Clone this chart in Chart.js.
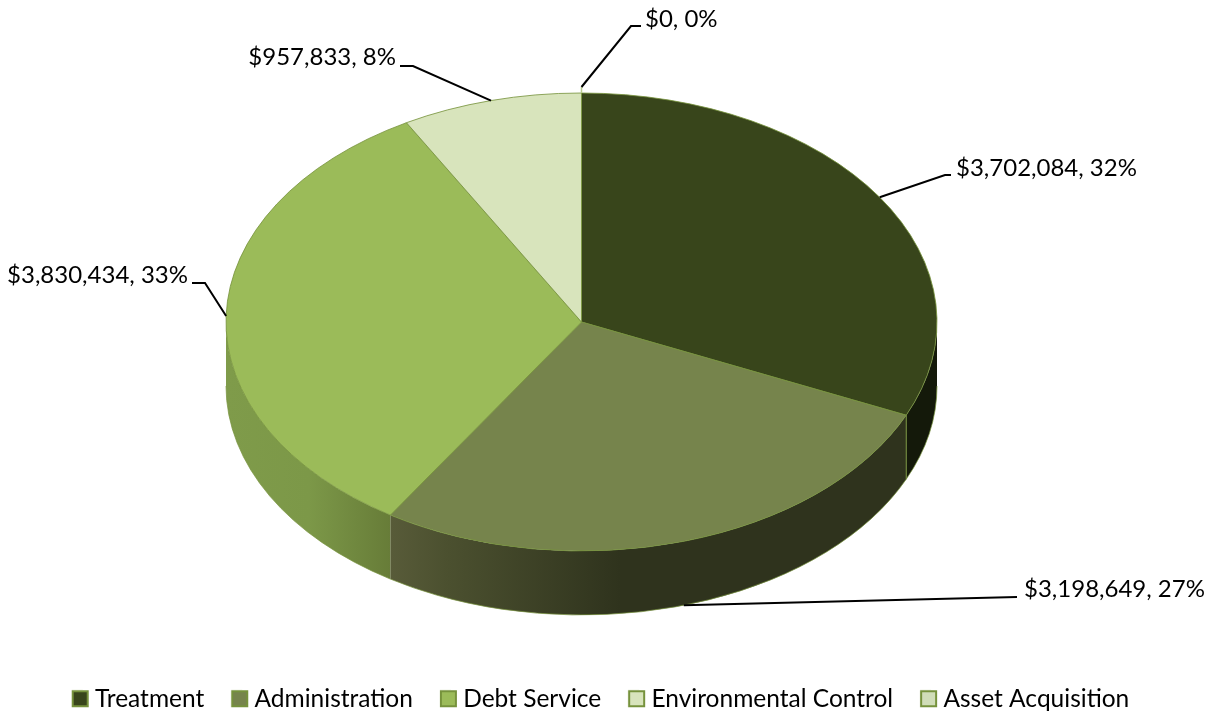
<!DOCTYPE html>
<html>
<head>
<meta charset="utf-8">
<style>html,body{margin:0;padding:0;background:#fff}canvas{display:block}</style>
<script src="https://cdn.jsdelivr.net/npm/chart.js@4"></script>
</head>
<body>
<canvas id="c" width="1217" height="717"></canvas>
<script>
const categories = ['Treatment', 'Administration', 'Debt Service', 'Environmental Control', 'Asset Acquisition'];
const amounts = [3702084, 3198649, 3830434, 957833, 0];
const percentLabels = ['32%', '27%', '33%', '8%', '0%'];
const sliceColors = ['#38451b', '#76844c', '#9bbb59', '#d8e4bc', '#d0ddb8'];
const edgeColor = '#76923c';
const FONT = '24px Lato';

const CX = 581.5, CY = 322, RX = 355.5, RY = 229, DEPTH = 64;

// label placement: annotation layout only
const leaderLayout = [
  { elbow: [945, 175], end: [951, 175], text: [956, 168], align: 'left' },
  { elbow: [1017, 597], end: [1017, 597], text: [1024, 589], align: 'left', onWall: true },
  { elbow: [205, 283], end: [192, 283], text: [188, 275], align: 'right' },
  { elbow: [413, 66], end: [400, 66], text: [396, 57], align: 'right' },
  { elbow: [631, 26], end: [641, 26], text: [645, 19], align: 'left', tick: 6 }
];

function wallPath(ctx, a0, a1) {
  ctx.beginPath();
  ctx.ellipse(CX, CY, RX, RY, 0, a0, a1, false);
  ctx.ellipse(CX, CY + DEPTH, RX, RY, 0, a1, a0, true);
  ctx.closePath();
}
function wallFill(ctx, i) {
  if (i === 0) return '#14190a';
  const g = ctx.createLinearGradient(i === 1 ? 391 : 226, 0, i === 1 ? 620 : 391, 0);
  if (i === 1) {
    g.addColorStop(0, '#585b39');
    g.addColorStop(0.25, '#4b502f');
    g.addColorStop(1, '#2f331d');
  } else {
    g.addColorStop(0, '#7f9b4a');
    g.addColorStop(0.5, '#7c9848');
    g.addColorStop(1, '#677c38');
  }
  return g;
}

const pie3d = {
  id: 'pie3d',
  beforeDatasetsDraw(chart) {
    const ctx = chart.ctx, arcs = chart.getDatasetMeta(0).data;
    ctx.save();
    // side wall: only the front half of the rim shows
    arcs.forEach((arc, i) => {
      let a0 = arc.startAngle, a1 = arc.endAngle;
      if (a1 - a0 <= 0) return;
      a0 = Math.max(a0, 0); a1 = Math.min(a1, Math.PI);
      if (a1 <= a0) return;
      wallPath(ctx, a0, a1);
      ctx.fillStyle = wallFill(ctx, i);
      ctx.fill();
      ctx.beginPath();
      ctx.ellipse(CX, CY + DEPTH, RX, RY, 0, a0, a1, false);
      ctx.strokeStyle = 'rgba(118,146,60,0.7)';
      ctx.lineWidth = 1;
      ctx.stroke();
    });
    // seam between the dark slices on the right
    const seam = arcs[0].endAngle;
    ctx.beginPath();
    ctx.moveTo(CX + RX * Math.cos(seam), CY + RY * Math.sin(seam));
    ctx.lineTo(CX + RX * Math.cos(seam), CY + RY * Math.sin(seam) + DEPTH);
    ctx.strokeStyle = edgeColor;
    ctx.stroke();
    const a = arcs[0];
    ctx.translate(CX, CY);
    ctx.scale(1, RY / RX);
    ctx.translate(-a.x, -a.y);
  },
  afterDatasetsDraw(chart) {
    const ctx = chart.ctx, arcs = chart.getDatasetMeta(0).data;
    ctx.restore();
    ctx.save();
    ctx.font = FONT;
    ctx.textBaseline = 'middle';
    arcs.forEach((arc, i) => {
      const l = leaderLayout[i], mid = (arc.startAngle + arc.endAngle) / 2;
      const ax = CX + RX * Math.cos(mid);
      let ay = CY + RY * Math.sin(mid) + (l.onWall ? DEPTH : 0);
      if (l.tick) {
        ctx.beginPath(); ctx.moveTo(ax, ay); ctx.lineTo(ax, ay - l.tick);
        ctx.strokeStyle = '#b9cb90'; ctx.lineWidth = 1.5; ctx.stroke();
        ay -= l.tick;
      }
      ctx.beginPath();
      ctx.moveTo(ax, ay);
      ctx.lineTo(l.elbow[0], l.elbow[1]);
      ctx.lineTo(l.end[0], l.end[1]);
      ctx.strokeStyle = '#000'; ctx.lineWidth = 2; ctx.stroke();
      ctx.fillStyle = '#000';
      ctx.textAlign = l.align;
      ctx.fillText('$' + amounts[i].toLocaleString('en-US') + ', ' + percentLabels[i], l.text[0], l.text[1]);
    });
    ctx.restore();
  },
  afterDraw(chart) {
    const ctx = chart.ctx, lg = chart.legend;
    ctx.save();
    lg.legendHitBoxes.forEach((h, i) => {
      const top = h.top + (h.height - 17) / 2;
      ctx.fillStyle = '#fff';
      ctx.fillRect(h.left - 1, top - 1, 19, 19);
      ctx.fillStyle = sliceColors[i];
      ctx.strokeStyle = edgeColor;
      ctx.lineWidth = 2;
      ctx.fillRect(h.left + 1, top + 1, 15, 15);
      ctx.strokeRect(h.left + 1, top + 1, 15, 15);
    });
    ctx.restore();
  }
};

new Chart(document.getElementById('c'), {
  type: 'pie',
  data: {
    labels: categories,
    datasets: [{
      data: amounts,
      backgroundColor: sliceColors,
      borderColor: edgeColor,
      borderWidth: 1,
      radius: RX,
      clip: false
    }]
  },
  options: {
    responsive: false,
    animation: false,
    layout: { padding: { right: 16, bottom: -4 } },
    plugins: {
      tooltip: { enabled: false },
      legend: {
        position: 'bottom',
        labels: {
          boxWidth: 11,
          boxHeight: 17,
          padding: 27,
          color: '#000',
          font: { family: 'Lato', size: 24.5 }
        }
      }
    }
  },
  plugins: [pie3d]
});
</script>
</body>
</html>
